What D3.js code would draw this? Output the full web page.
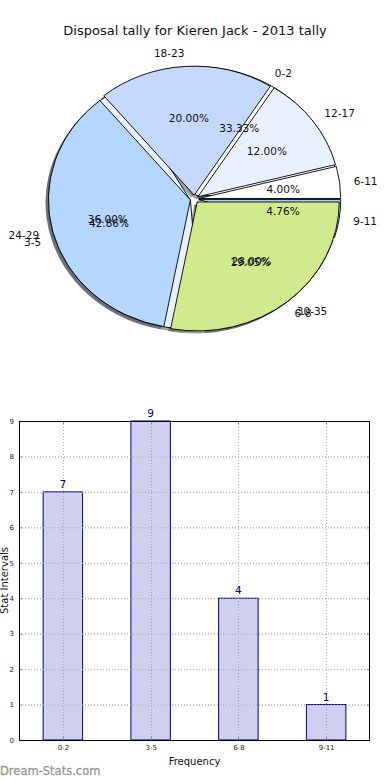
<!DOCTYPE html>
<html><head><meta charset="utf-8">
<script src="https://cdn.jsdelivr.net/npm/d3@7"></script>
<style>
html,body{margin:0;padding:0;background:#fff;}
svg{display:block;font-family:"DejaVu Sans",sans-serif;}
</style></head>
<body>
<svg id="c" width="390" height="780"></svg>
<script>
// ---- data ----
const title = "Disposal tally for Kieren Jack - 2013 tally";
const statLabels = ["0-2", "3-5", "6-8", "9-11"];
const statValues = [7, 9, 4, 1];
const tallyLabels = ["6-11", "12-17", "18-23", "24-29", "30-35"];
const tallyValues = [1, 3, 5, 9, 7];
const sliceColors = ["#ffffff", "#e9f1ff", "#c5d9ff", "#b5d6ff", "#d0ea8e"];
const yTicks = [0, 1, 2, 3, 4, 5, 6, 7, 8, 9];
const xTitle = "Frequency";
const yTitle = "Stat Intervals";
const watermark = "Dream-Stats.com";

const svg = d3.select("#c");

// ---- title ----
svg.append("text").attr("x", 195).attr("y", 34.5).attr("text-anchor", "middle")
  .attr("font-size", 13).attr("fill", "#111").text(title);

// ---- pies (elliptical, matplotlib-like) ----
const cx = 194.5, cy = 199, Rx = 142, Ry = 129;
const explode = 0.03, shadowOff = 0.02;
const xs = d3.scaleLinear().domain([-1, 1]).range([cx - Rx, cx + Rx]);
const ys = d3.scaleLinear().domain([-1, 1]).range([cy + Ry, cy - Ry]);
const arcGen = d3.arc().innerRadius(0).outerRadius(1);
const pieGen = d3.pie().sort(null).startAngle(Math.PI / 2).endAngle(Math.PI / 2 - 2 * Math.PI);

function build(labels, values) {
  const total = d3.sum(values);
  return pieGen(values).map((d, i) => {
    const mid = Math.PI / 2 - (d.startAngle + d.endAngle) / 2; // math angle
    return {arc: d, label: labels[i], pct: d.value / total * 100, color: sliceColors[i % sliceColors.length],
            mid, ox: explode * Math.cos(mid), oy: explode * Math.sin(mid)};
  });
}
const pieA = build(statLabels, statValues);
const pieB = build(tallyLabels, tallyValues);

function darker(c) { const r = d3.rgb(c); return d3.rgb(r.r * 0.3, r.g * 0.3, r.b * 0.3).toString(); }

const gShadow = svg.append("g"), gWedge = svg.append("g"), gText = svg.append("g");
[pieA, pieB].forEach(p => {
  gShadow.selectAll(null).data(p).enter().append("path")
    .attr("d", d => arcGen(d.arc))
    .attr("transform", d => `translate(${xs(d.ox - shadowOff)},${ys(d.oy - shadowOff)}) scale(${Rx},${Ry})`)
    .attr("fill", d => darker(d.color)).attr("fill-opacity", 0.5);
});
[pieA, pieB].forEach(p => {
  gWedge.selectAll(null).data(p).enter().append("path")
    .attr("d", d => arcGen(d.arc))
    .attr("transform", d => `translate(${xs(d.ox)},${ys(d.oy)}) scale(${Rx},${Ry})`)
    .attr("fill", d => d.color).attr("stroke", "#000").attr("stroke-width", 0.9)
    .attr("vector-effect", "non-scaling-stroke").attr("stroke-linejoin", "miter");
});
[pieA, pieB].forEach(p => {
  p.forEach(d => {
    const lx = (explode + 1.1) * Math.cos(d.mid), ly = (explode + 1.1) * Math.sin(d.mid);
    gText.append("text").attr("x", xs(lx)).attr("y", ys(ly)).attr("dy", "0.36em")
      .attr("text-anchor", lx > 0 ? "start" : "end").attr("font-size", 10.5).attr("fill", "#111").text(d.label);
    const px = (explode + 0.6) * Math.cos(d.mid), py = (explode + 0.6) * Math.sin(d.mid);
    gText.append("text").attr("x", xs(px)).attr("y", ys(py)).attr("dy", "0.36em")
      .attr("text-anchor", "middle").attr("font-size", 10.5).attr("fill", "#111").text(d.pct.toFixed(2) + "%");
  });
});

// ---- bar chart ----
const L = 19, R = 370, T = 421, B = 740;
const x = d3.scalePoint().domain(statLabels).range([L, R]).padding(0.5);
const y = d3.scaleLinear().domain([0, 9]).range([B, T]);
const bw = x.step() * 0.45;
const gridCol = "#b8b8b8";

const gGrid = svg.append("g");
gGrid.selectAll(null).data(yTicks.slice(1, -1)).enter().append("line")
  .attr("x1", L).attr("x2", R).attr("y1", d => y(d) + 0.5).attr("y2", d => y(d) + 0.5)
  .attr("stroke", gridCol).attr("stroke-width", 1).attr("stroke-dasharray", "1,2");
gGrid.selectAll(null).data(statLabels).enter().append("line")
  .attr("x1", d => Math.round(x(d)) + 0.5).attr("x2", d => Math.round(x(d)) + 0.5).attr("y1", T).attr("y2", B)
  .attr("stroke", gridCol).attr("stroke-width", 1).attr("stroke-dasharray", "1,2");

svg.append("g").selectAll(null).data(statLabels.map((c, i) => ({c, v: statValues[i]}))).enter().append("rect")
  .attr("x", d => x(d.c) - bw / 2).attr("y", d => y(d.v)).attr("width", bw).attr("height", d => B - y(d.v))
  .attr("fill", "#ccccee").attr("fill-opacity", 0.95).attr("stroke", "#000080").attr("stroke-width", 1);

const gGrid2 = svg.append("g");
gGrid2.selectAll(null).data(statLabels).enter().append("line")
  .attr("x1", d => Math.round(x(d)) + 0.5).attr("x2", d => Math.round(x(d)) + 0.5).attr("y1", T).attr("y2", B)
  .attr("stroke", "#a8a8b8").attr("stroke-width", 1).attr("stroke-dasharray", "1,2");
gGrid2.selectAll(null).data(yTicks.slice(1, -1)).enter().append("line")
  .attr("x1", L).attr("x2", R).attr("y1", d => y(d) + 0.5).attr("y2", d => y(d) + 0.5)
  .attr("stroke", "#a8a8b8").attr("stroke-width", 1).attr("stroke-dasharray", "1,2");

svg.append("g").selectAll(null).data(statLabels.map((c, i) => ({c, v: statValues[i]}))).enter().append("text")
  .attr("x", d => x(d.c)).attr("y", d => y(d.v) - 4).attr("text-anchor", "middle")
  .attr("font-size", 10.5).attr("fill", "#000080").text(d => d.v);

// axes
const yAxis = d3.axisLeft(y).tickValues(yTicks).tickSize(0).tickPadding(5);
const gy = svg.append("g").attr("transform", `translate(${L},0)`).call(yAxis);
gy.select(".domain").remove();
gy.selectAll("text").attr("font-size", 7).attr("fill", "#222").attr("font-family", "DejaVu Sans");
const xAxis = d3.axisBottom(x).tickSize(0).tickPadding(5);
const gx = svg.append("g").attr("transform", `translate(0,${B})`).call(xAxis);
gx.select(".domain").remove();
gx.selectAll("text").attr("font-size", 7).attr("fill", "#222").attr("font-family", "DejaVu Sans");

// inward tick marks
svg.append("g").selectAll(null).data(yTicks).enter().append("g").each(function(d) {
  const g = d3.select(this);
  g.append("line").attr("x1", L).attr("x2", L + 3).attr("y1", y(d) + 0.5).attr("y2", y(d) + 0.5).attr("stroke", "#888");
  g.append("line").attr("x1", R - 3).attr("x2", R).attr("y1", y(d) + 0.5).attr("y2", y(d) + 0.5).attr("stroke", "#888");
});
svg.append("g").selectAll(null).data(statLabels).enter().append("g").each(function(d) {
  const g = d3.select(this), xx = Math.round(x(d)) + 0.5;
  g.append("line").attr("x1", xx).attr("x2", xx).attr("y1", B - 3).attr("y2", B).attr("stroke", "#888");
  g.append("line").attr("x1", xx).attr("x2", xx).attr("y1", T).attr("y2", T + 3).attr("stroke", "#888");
});

svg.append("rect").attr("x", L + 0.5).attr("y", T + 0.5).attr("width", R - L - 1).attr("height", B - T)
  .attr("fill", "none").attr("stroke", "#000").attr("stroke-width", 1);

svg.append("text").attr("x", (L + R) / 2).attr("y", 764.5).attr("text-anchor", "middle")
  .attr("font-size", 10).attr("fill", "#111").text(xTitle);
svg.append("text").attr("transform", `translate(7.5,${(T + B) / 2}) rotate(-90)`).attr("text-anchor", "middle")
  .attr("font-size", 10).attr("fill", "#111").text(yTitle);

svg.append("text").attr("x", 0).attr("y", 774.5).attr("font-size", 11.5)
  .attr("fill", "#9a9a9a").attr("stroke", "#9a9a9a").attr("stroke-width", 0.35).text(watermark);
</script>
</body></html>
